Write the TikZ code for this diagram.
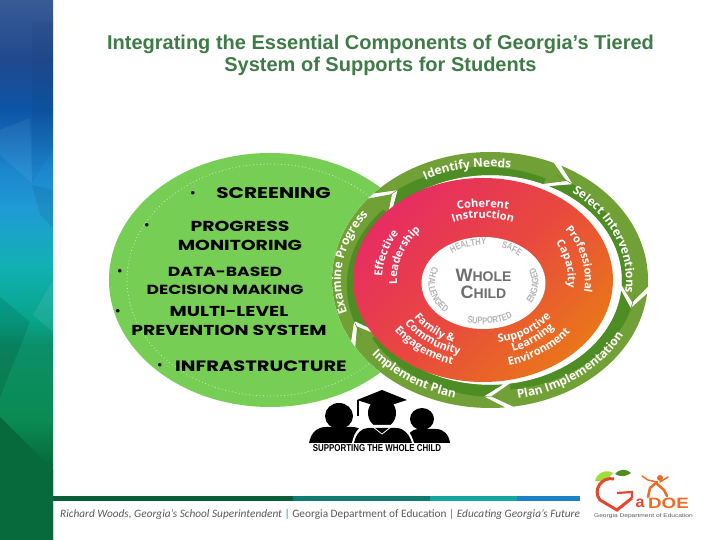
\documentclass[tikz,border=0pt]{standalone}
\usepackage{fontspec}
\setmainfont{Liberation Sans}
\newfontfamily\listfont[FakeStretch=1.3]{Poppins}
\newfontfamily\ringfont{Open Sans}
\newfontfamily\footfont{Carlito}
\newfontfamily\narrowfont[FakeStretch=0.79]{Liberation Sans}
\newfontfamily\logofont[FakeStretch=1.25]{Liberation Sans}
\usetikzlibrary{positioning,decorations.text}
\definecolor{titlegreen}{HTML}{3F7B47}
\definecolor{leafgreen}{HTML}{77CE55}
\definecolor{ringlight}{HTML}{71A136}
\definecolor{ringdark}{HTML}{4E8C24}
\definecolor{discpink}{HTML}{E72D62}
\definecolor{discmid}{HTML}{E8483F}
\definecolor{discorange}{HTML}{E9761A}
\definecolor{childgray}{HTML}{6E6E6E}
\definecolor{palegray}{HTML}{B4B4B8}
\definecolor{footgray}{HTML}{5A5A5A}
\definecolor{logored}{HTML}{E8452F}
\definecolor{logoorange}{HTML}{EE6A25}
\definecolor{sideA}{HTML}{3A5A94}
\definecolor{sideB}{HTML}{1F4A90}
\definecolor{sideC}{HTML}{0D55A6}
\definecolor{sideD}{HTML}{1C86CE}
\definecolor{sideE}{HTML}{1F9CD3}
\definecolor{sideF}{HTML}{12B0B4}
\definecolor{sideG}{HTML}{07A58A}
\definecolor{sideH}{HTML}{0B8F68}
\definecolor{sideI}{HTML}{0A8B52}
\definecolor{sideJ}{HTML}{076A3C}
\definecolor{sideK}{HTML}{05572F}
\definecolor{ruleA}{HTML}{0B5C38}
\definecolor{ruleB}{HTML}{0E7A70}
\definecolor{ruleC}{HTML}{13A5A0}
\definecolor{ruleD}{HTML}{1B82C5}
\tikzset{
  listitem/.style={text=black,align=center,inner sep=0pt,font=\listfont\bfseries},
  listdot/.style={text=black,inner sep=0pt,font=\fontsize{13}{13}\selectfont}
}
\newcommand{\ringseg}[2]{%
  \pgfmathsetmacro{\tailang}{#1+8}
  \pgfmathsetmacro{\headang}{#2+8}
  \fill[ringlight] (#1:145 and 116.5) -- (\tailang:158 and 128)
    arc[start angle=\tailang,end angle=\headang,x radius=158,y radius=128]
    -- (#2:145 and 116.5) -- (\headang:132 and 105)
    arc[start angle=\headang,end angle=\tailang,x radius=132,y radius=105] -- cycle;
  \fill[ringdark] (\tailang:132 and 105)
    arc[start angle=\tailang,end angle=\headang,x radius=132,y radius=105]
    -- plot[domain=\headang:\tailang,samples=24]
      ({(132+26*(.25+.3*(\x-\headang)/(\tailang-\headang)))*cos(\x)},{(105+23*(.25+.3*(\x-\headang)/(\tailang-\headang)))*sin(\x)})
    -- (#1:145 and 116.5) -- cycle;
}
\newcommand{\arctext}[6]{%
  \path[decorate,decoration={text along path,text align=center,text={|#5|#6}}]
    (#1:#3 and #4) arc[start angle=#1,end angle=#2,x radius=#3,y radius=#4];
}
\newcommand{\ringlabel}{\color{white}\ringfont\bfseries\fontsize{12}{12}\selectfont}
\newcommand{\disclabel}{\color{white}\ringfont\bfseries\fontsize{11}{11}\selectfont}
\newcommand{\wordlabel}{\color{palegray}\narrowfont\bfseries\fontsize{9.5}{9.5}\selectfont}
\begin{document}
\begin{tikzpicture}[x=1pt,y=1pt]
\useasboundingbox (0,0) rectangle (720,540);
\fill[white] (0,0) rectangle (720,540);
% side band
\foreach \ya/\yb/\ca/\cb in {540/480/sideA/sideB,480/430/sideB/sideC,430/370/sideC/sideD,370/330/sideD/sideE,330/275/sideE/sideF,275/220/sideF/sideG,220/195/sideG/sideH,195/120/sideH/sideI,120/75/sideI/sideJ,75/0/sideJ/sideK}
  \shade[top color=\ca,bottom color=\cb] (0,\ya) rectangle (53,\yb);
\fill[black,opacity=.04] (32,518) -- (53,518) -- (53,390) -- (32,357) -- cycle;
\fill[white,opacity=.06] (0,410) -- (30,422) -- (32,357) -- (0,385) -- cycle;
\fill[black,opacity=.07] (32,355) -- (53,350) -- (53,312) -- (40,325) -- cycle;
\fill[black,opacity=.1] (0,243) -- (30,218) -- (0,143) -- cycle;
\fill[white,opacity=.08] (33,225) -- (53,260) -- (53,208) -- cycle;
\fill[sideJ] (0,123) -- (53,70) -- (53,0) -- (0,0) -- cycle;
% title
\node[align=center,text=titlegreen,font=\bfseries\fontsize{20}{22}\selectfont] (title) at (380.5,485) {Integrating the Essential Components of Georgia’s Tiered\\System of Supports for Students};
% green ellipse
\fill[leafgreen] (270,260) ellipse[x radius=161,y radius=127];
\draw[white,line width=1pt,line cap=round,dash pattern=on 0pt off 3.5pt,opacity=.75] (270,260) ellipse[x radius=143,y radius=116];
\node[listitem,font=\listfont\bfseries\fontsize{15.5}{18}\selectfont] (screening) at (273.5,347) {SCREENING};
\node[listitem,font=\listfont\bfseries\fontsize{14.5}{18.5}\selectfont] (monitoring) at (240,304) {PROGRESS\\MONITORING};
\node[listitem,font=\listfont\bfseries\fontsize{13.2}{18}\selectfont] (databased) at (225,259) {DATA-BASED\\DECISION MAKING};
\node[listitem,font=\listfont\bfseries\fontsize{14.4}{19}\selectfont] (multilevel) at (229,218.5) {MULTI-LEVEL\\PREVENTION SYSTEM};
\node[listitem,font=\listfont\bfseries\fontsize{15}{18}\selectfont] (infrastructure) at (261,174) {INFRASTRUCTURE};
\node[listdot] (dotscreening) at (193,346) {•};
\node[listdot] (dotmonitoring) at (147,314) {•};
\node[listdot] (dotdatabased) at (120,268) {•};
\node[listdot] (dotmultilevel) at (118,228) {•};
\node[listdot] (dotinfrastructure) at (160,174) {•};
% ring of arrows
\begin{scope}[shift={(490,260)}]
\fill[white] (0,0) ellipse[x radius=158,y radius=128];
\ringseg{129.5}{58.2}
\ringseg{55.2}{-11.1}
\ringseg{-14.1}{-89.5}
\ringseg{-92.5}{-156.5}
\ringseg{-159.5}{-227.5}
\arctext{135}{65}{139}{113}{\ringlabel}{Identify Needs}
\arctext{60}{-15}{136}{110}{\ringlabel}{Select Interventions}
\arctext{-92}{-12}{150}{121}{\ringlabel}{Plan Implementation}
\arctext{-165}{-84}{150}{121}{\ringlabel}{Implement Plan}
\arctext{215}{128}{149}{113}{\ringlabel}{Examine Progress}
\end{scope}
% red disc
\begin{scope}[shift={(483,260)}]
\shade[top color=discpink,bottom color=discorange,middle color=discmid,shading angle=45] (0,0) ellipse[x radius=130,y radius=102];
\arctext{130}{50}{93}{73}{\disclabel}{Coherent}
\arctext{130}{50}{80}{62}{\disclabel}{Instruction}
\arctext{200}{126}{101}{85}{\disclabel}{Effective}
\arctext{205}{117}{86}{72}{\disclabel}{Leadership}
\arctext{52}{-25}{102}{85}{\disclabel}{Professional}
\arctext{47}{-23}{85}{72}{\disclabel}{Capacity}
\arctext{-176}{-86}{83}{67}{\disclabel}{Family {\&}}
\arctext{-172}{-82}{95}{77}{\disclabel}{Community}
\arctext{-173}{-83}{108}{88}{\disclabel}{Engagement}
\arctext{-100}{-10}{84}{64}{\disclabel}{Supportive}
\arctext{-98}{-8}{92}{76}{\disclabel}{Learning}
\arctext{-99}{-9}{108}{88}{\disclabel}{Environment}
\end{scope}
% white centre
\begin{scope}[shift={(483.5,257)}]
\fill[white] (0,0) ellipse[x radius=62,y radius=46];
\arctext{160}{60}{50}{38}{\wordlabel}{HEALTHY}
\arctext{90}{20}{50}{38}{\wordlabel}{SAFE}
\arctext{146}{236}{55}{41}{\wordlabel}{CHALLENGED}
\arctext{233}{323}{55}{41}{\wordlabel}{SUPPORTED}
\arctext{-34}{26}{55}{41}{\wordlabel}{ENGAGED}
\node[text=childgray,align=center,font=\bfseries\fontsize{18}{16.5}\selectfont] (wholechild) at (0,-1) {W{\fontsize{14}{16.5}\selectfont HOLE}\\C{\fontsize{14}{16.5}\selectfont HILD}};
\end{scope}
% three figures
\fill[black] (339,124) ellipse[x radius=14,y radius=13];
\fill[black] (422,121) ellipse[x radius=12,y radius=11];
\fill[black] (382,127) ellipse[x radius=14,y radius=15];
\fill[black] (309,97) .. controls (311,108) and (318,113) .. (326,113) -- (352,113) .. controls (362,113) and (366,106) .. (368,97) -- cycle;
\fill[black] (405,97) .. controls (407,106) and (412,111) .. (418,111) -- (436,111) .. controls (444,111) and (449,105) .. (450,97) -- cycle;
\fill[white] (352,97) .. controls (354,108) and (360,115) .. (367,115) -- (397,115) .. controls (405,115) and (411,108) .. (414,97) -- cycle;
\fill[black] (354,97) .. controls (356,106) and (361,112) .. (368,112) -- (396,112) .. controls (404,112) and (409,106) .. (412,97) -- cycle;
\draw[white,line width=.8pt] (373,113) -- (382,106) -- (391,113);
\fill[black] (357,140) -- (382,150) -- (407,140) -- (382,132) -- cycle;
\draw[black,line width=2.2pt] (358,140) -- (358,124);
\node[font=\narrowfont\bfseries\fontsize{10}{10}\selectfont,text=black,inner sep=0pt] (supporting) at (377,92) {SUPPORTING THE WHOLE CHILD};
% footer rule and line
\fill[ruleA] (53,39) rectangle (293,44);
\fill[ruleB] (293,39) rectangle (430,44);
\fill[ruleC] (430,39) rectangle (517,44);
\fill[ruleD] (517,39) rectangle (580,44);
\node[anchor=west,inner sep=0pt,text=footgray,font=\footfont\fontsize{11.3}{12}\selectfont] (footer) at (60,26) {\textit{Richard Woods, Georgia’s School Superintendent} {\color{ruleD}|} Georgia Department of Education {\color{ruleD}|} \textit{Educating Georgia’s Future}};
% logo
\fill[leafgreen!70!yellow] (595,59) .. controls (597,68) and (607,71) .. (613,67) .. controls (608,60) and (601,58) .. (595,59) -- cycle;
\fill[ringdark] (615,66) .. controls (620,72) and (627,71) .. (631,67) .. controls (626,63) and (620,63) .. (615,66) -- cycle;
\draw[logored,line width=3pt] (614,61) .. controls (602,64) and (592,50) .. (600,40) -- (617,30) -- (632,42);
\draw[logored,line width=2.2pt] (617,47) -- (632,48) -- (632,42);
\node[inner sep=0pt,text=logored,font=\bfseries\fontsize{16}{16}\selectfont] (logoa) at (640,37) {a};
\node[inner sep=0pt,text=logoorange,font=\logofont\bfseries\fontsize{15}{15}\selectfont,anchor=west] (logodoe) at (648,37) {DOE};
\draw[logoorange,line width=2.5pt,line cap=round] (648,43) -- (650,52) -- (657,58);
\draw[logoorange,line width=2.5pt,line cap=round] (657,56) -- (664,50) -- (667,44);
\draw[logoorange,line width=1.5pt,line cap=round] (657,58) -- (648,60) -- (642,64);
\draw[logoorange,line width=1.5pt,line cap=round] (660,58) -- (668,63);
\fill[logoorange] (660,62) circle[radius=3];
\node[inner sep=0pt,text=footgray,font=\logofont\fontsize{5.3}{5.3}\selectfont] (logoname) at (643.5,24) {Georgia Department of Education};
\end{tikzpicture}
\end{document}
